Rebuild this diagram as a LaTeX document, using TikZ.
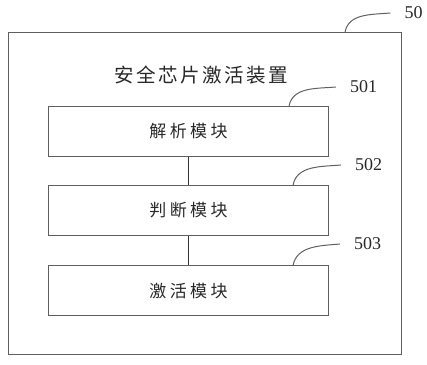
\documentclass[tikz,border=0pt]{standalone}
\usepackage{fontspec}
\usepackage{tikz}
\usetikzlibrary{positioning}
\setmainfont{Liberation Serif}
\newfontfamily\cjktitle[LetterSpace=13]{Noto Sans CJK SC}
\newfontfamily\cjkbox[LetterSpace=20]{Noto Sans CJK SC}
\definecolor{linegray}{RGB}{95, 95, 95}
\definecolor{textgray}{RGB}{40, 40, 40}

\begin{document}
\begin{tikzpicture}[
    x=1pt, y=-1pt,
    outer/.style={rectangle, draw=linegray, line width=1.1pt,
                  minimum width=393pt, minimum height=322pt, inner sep=0pt},
    modbox/.style={rectangle, draw=linegray, line width=1.1pt,
                   minimum width=280pt, minimum height=50pt, inner sep=0pt,
                   font=\cjkbox\fontsize{17}{20}\selectfont, text=textgray},
    title/.style={font=\cjktitle\fontsize{19.5}{22}\selectfont, text=textgray},
    refnum/.style={font=\fontsize{18}{20}\selectfont, text=textgray,
                   inner xsep=14pt, inner ysep=0pt},
    link/.style={draw=black!80, line width=1pt},
    lead/.style={draw=linegray, line width=1pt}
]
\useasboundingbox (0,0) rectangle (427,364);

%% ── DEVICE FRAME ────────────────────────────────────────────────────────────
\node[outer] (dev) at (205, 193.2) {};
\node[title] (devname) at (201.5, 75) {安全芯片激活装置};

%% ── MODULES ─────────────────────────────────────────────────────────────────
\node[modbox] (parse) at (188.5, 131.3) {解析模块};
\node[modbox] (judge) at (188.5, 210.4) {判断模块};
\node[modbox] (activ) at (188.5, 290.7) {激活模块};

%% ── Reference numbers ───────────────────────────────────────────────────────
\node[refnum] (n50)  at (413.5,  13) {50};
\node[refnum] (n501) at (363.5,  87) {501};
\node[refnum] (n502) at (368.5, 165) {502};
\node[refnum] (n503) at (367.5, 244) {503};

\coordinate (t50)  at (345, 32.3);
\coordinate (t501) at (289, 106.3);
\coordinate (t502) at (293, 185.4);
\coordinate (t503) at (293, 265.7);

%% ── Connections ─────────────────────────────────────────────────────────────
\draw[link] (parse) -- (judge);
\draw[link] (judge) -- (activ);

% leader curves
\draw[lead] (t50)  to[out=80, in=185] (n50.west);
\draw[lead] (t501) to[out=80, in=185] (n501.west);
\draw[lead] (t502) to[out=80, in=185] (n502.west);
\draw[lead] (t503) to[out=80, in=185] (n503.west);

\end{tikzpicture}
\end{document}
